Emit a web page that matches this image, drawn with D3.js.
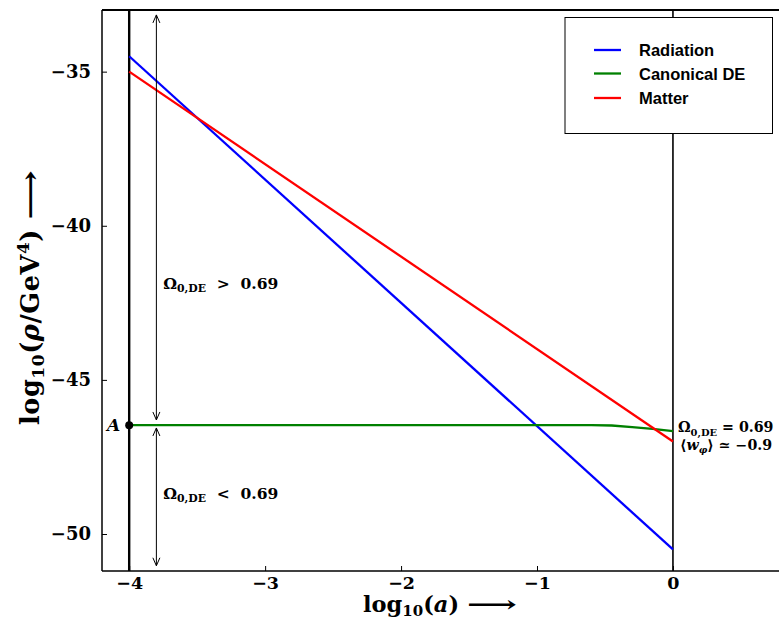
<!DOCTYPE html>
<html><head><meta charset="utf-8">
<script src="https://cdn.jsdelivr.net/npm/d3@7"></script>
<style>body{margin:0;background:#fff}svg{display:block}</style></head>
<body>
<script>
// ---- data ----
const xTicks = [-4, -3, -2, -1, 0];
const yTicks = [-50, -45, -40, -35];
const xDomain = [-4.2, 0.8];
const yDomain = [-51.2, -33];
const radX = [-4, 0];
const radY = [-34.5, -50.5];
const matX = [-4, 0];
const matY = [-35, -47];
const deX = [-4, -3, -2, -1, -0.6, -0.45, -0.3, -0.15, 0];
const deY = [-46.47, -46.47, -46.47, -46.47, -46.47, -46.48, -46.53, -46.59, -46.66];
const seriesNames = ["Radiation", "Canonical DE", "Matter"];
const seriesColors = ["#0000ff", "#008000", "#ff0000"];
const pointA = {x: -4, y: -46.47, label: "A"};
const vLines = [-4, 0];
const arrowX = -3.8;
const upperArrow = [-46.30, -33.16];
const lowerArrow = [-46.56, -51.03];

// ---- layout ----
const W = 779, H = 622;
const mLeft = 102, mTop = 10, mBottom = 571;
const x = d3.scaleLinear().domain(xDomain).range([mLeft, 781.7]);
const y = d3.scaleLinear().domain(yDomain).range([mBottom, mTop]);
const serif = "'DejaVu Serif', serif";
const sans = "'Liberation Sans', Arial, sans-serif";

const svg = d3.select("body").append("svg").attr("width", W).attr("height", H);
svg.append("defs").append("clipPath").attr("id", "clip")
  .append("rect").attr("x", mLeft).attr("y", mTop).attr("width", W - mLeft).attr("height", mBottom - mTop);
const g = svg.append("g").attr("clip-path", "url(#clip)");

// vertical lines
g.selectAll(".vl").data(vLines).join("line")
  .attr("x1", d => x(d)).attr("x2", d => x(d)).attr("y1", mTop).attr("y2", mBottom)
  .attr("stroke", "#000").attr("stroke-width", (d, i) => i === 0 ? 2.4 : 1.6);

const series = [
  {name: seriesNames[0], color: seriesColors[0], xs: radX, ys: radY},
  {name: seriesNames[1], color: seriesColors[1], xs: deX, ys: deY},
  {name: seriesNames[2], color: seriesColors[2], xs: matX, ys: matY}
];
const line = d3.line().x(d => x(d[0])).y(d => y(d[1]));
g.selectAll(".series").data(series).join("path")
  .attr("d", s => line(s.xs.map((v, i) => [v, s.ys[i]])))
  .attr("fill", "none").attr("stroke", s => s.color).attr("stroke-width", 2.3);

// double arrows
function dArrow(y1, y2) {
  const xp = x(arrowX), a = y(y1), b = y(y2);
  g.append("line").attr("x1", xp).attr("x2", xp).attr("y1", a).attr("y2", b)
    .attr("stroke", "#000").attr("stroke-width", 1);
  [[a, b > a ? 1 : -1], [b, a > b ? 1 : -1]].forEach(([p, dir]) => {
    g.append("path").attr("d", `M${xp - 3.5},${p + dir * 8}L${xp},${p}L${xp + 3.5},${p + dir * 8}`)
      .attr("fill", "none").attr("stroke", "#000").attr("stroke-width", 1);
  });
}
dArrow(upperArrow[0], upperArrow[1]);
dArrow(lowerArrow[0], lowerArrow[1]);

// point A
svg.append("circle").attr("cx", x(pointA.x)).attr("cy", y(pointA.y)).attr("r", 4).attr("fill", "#000");
svg.append("text").attr("x", x(pointA.x) - 9).attr("y", y(pointA.y) + 6)
  .attr("text-anchor", "end").attr("font-family", serif).attr("font-weight", "bold")
  .attr("font-style", "italic").attr("font-size", 17).text(pointA.label);

// annotation helper
function omega(xp, yp, rest, fs) {
  const t = svg.append("text").attr("x", xp).attr("y", yp)
    .attr("font-family", serif).attr("font-weight", "bold").attr("font-size", fs);
  t.append("tspan").text("Ω");
  t.append("tspan").attr("dy", 3.5).attr("font-size", fs * 0.7).text("0,DE");
  t.append("tspan").attr("dy", -3.5).text(rest);
  return t;
}
omega(x(-3.75), y(-42.05), "\u00a0\u00a0>\u00a0\u00a00.69", 15.5);
omega(x(-3.75), y(-48.85), "\u00a0\u00a0<\u00a0\u00a00.69", 15.5);
omega(x(0) + 5, 432, " = 0.69", 14.2);
const wt = svg.append("text").attr("x", x(0) + 7).attr("y", 449.5)
  .attr("font-family", serif).attr("font-weight", "bold").attr("font-size", 14.2);
wt.append("tspan").text("⟨");
wt.append("tspan").attr("font-style", "italic").text("w");
wt.append("tspan").attr("dy", 3).attr("font-size", 9.5).attr("font-style", "italic").text("φ");
wt.append("tspan").attr("dy", -3).text("⟩ ≃ −0.9");

// axes spines
svg.append("line").attr("x1", mLeft).attr("x2", W).attr("y1", mBottom).attr("y2", mBottom).attr("stroke", "#000").attr("stroke-width", 1.5);
svg.append("line").attr("x1", mLeft).attr("x2", W).attr("y1", mTop).attr("y2", mTop).attr("stroke", "#000").attr("stroke-width", 1.8);
svg.append("line").attr("x1", mLeft).attr("x2", mLeft).attr("y1", mTop).attr("y2", mBottom).attr("stroke", "#000").attr("stroke-width", 1.5);

const xAxis = svg.append("g").attr("transform", `translate(0,${mBottom})`)
  .call(d3.axisBottom(x).tickValues(xTicks).tickSizeInner(-5).tickSizeOuter(0).tickPadding(6)
    .tickFormat(d => d < 0 ? "\u2212" + Math.abs(d) : d));
xAxis.select(".domain").remove();
xAxis.selectAll("text").attr("font-family", serif).attr("font-weight", "bold").attr("font-size", 17.5).attr("fill", "#000");
xAxis.selectAll("line").attr("stroke", "#000");

const yAxis = svg.append("g").attr("transform", `translate(${mLeft},0)`)
  .call(d3.axisLeft(y).tickValues(yTicks).tickSizeInner(-5).tickSizeOuter(0).tickPadding(11)
    .tickFormat(d => "\u2212" + Math.abs(d)));
yAxis.select(".domain").remove();
yAxis.selectAll("text").attr("font-family", serif).attr("font-weight", "bold").attr("font-size", 18).attr("fill", "#000");
yAxis.selectAll("line").attr("stroke", "#000");

// axis labels
const xl = svg.append("text").attr("x", 363).attr("y", 612).attr("text-anchor", "start")
  .attr("font-family", serif).attr("font-weight", "bold").attr("font-size", 22.5);
xl.append("tspan").text("log");
xl.append("tspan").attr("dy", 4).attr("font-size", 15).text("10");
xl.append("tspan").attr("dy", -4).text("(");
xl.append("tspan").attr("font-style", "italic").text("a");
xl.append("tspan").text(")\u00a0");
xl.append("tspan").attr("textLength", 50).attr("lengthAdjust", "spacingAndGlyphs").text("⟶");

const yl = svg.append("text").attr("transform", "translate(39,425) rotate(-90)").attr("text-anchor", "start")
  .attr("font-family", serif).attr("font-weight", "bold").attr("font-size", 25.5).attr("letter-spacing", 0.6);
yl.append("tspan").text("log");
yl.append("tspan").attr("dy", 5).attr("font-size", 17).text("10");
yl.append("tspan").attr("dy", -5).text("(");
yl.append("tspan").attr("font-style", "italic").text("ρ");
yl.append("tspan").text("/GeV");
yl.append("tspan").attr("dy", -10).attr("font-size", 17).text("4");
yl.append("tspan").attr("dy", 10).text(")\u00a0");
yl.append("tspan").attr("textLength", 50).attr("lengthAdjust", "spacingAndGlyphs").text("⟶");

// legend
const lg = svg.append("g");
lg.append("rect").attr("x", 565).attr("y", 17.5).attr("width", 207.5).attr("height", 116)
  .attr("fill", "#fff").attr("stroke", "#000").attr("stroke-width", 1);
series.forEach((s, i) => {
  const yy = [50, 73.5, 98][i];
  lg.append("line").attr("x1", 594).attr("x2", 621).attr("y1", yy).attr("y2", yy)
    .attr("stroke", s.color).attr("stroke-width", 2.3);
  lg.append("text").attr("x", 639).attr("y", yy + 6).attr("font-family", sans)
    .attr("font-weight", "bold").attr("font-size", 16.5).attr("fill", "#000").text(s.name);
});
</script>
</body></html>
